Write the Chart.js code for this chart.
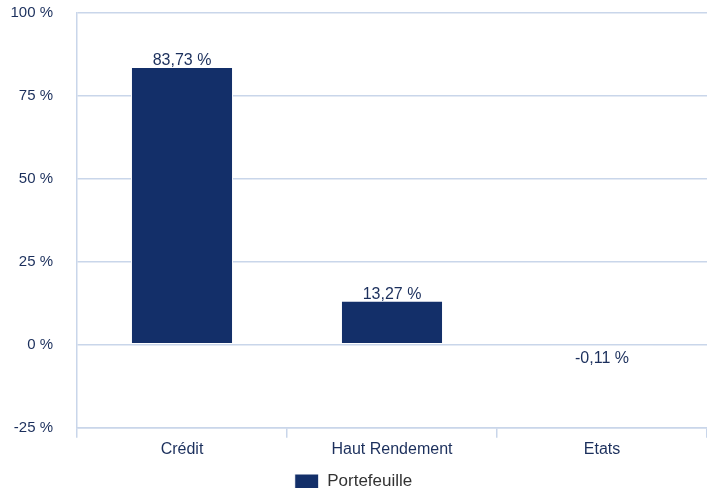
<!DOCTYPE html>
<html>
<head>
<meta charset="utf-8">
<script src="https://cdn.jsdelivr.net/npm/chart.js@4/dist/chart.umd.min.js"></script>
<style>
  html, body { margin: 0; padding: 0; background: #ffffff; }
  #wrap { width: 707px; height: 488px; position: relative; }
</style>
</head>
<body>
<div id="wrap"><canvas id="chart" width="707" height="488"></canvas></div>
<script>
// Allocation by segment (in %)
const categories = ['Crédit', 'Haut Rendement', 'Etats'];
const seriesName = 'Portefeuille';
const portefeuille = [83.73, 13.27, -0.11];
const yTicks = [-25, 0, 25, 50, 75, 100];

const NAVY = '#132f69';
const TEXT = '#1b2f5c';
const GRID = '#c9d6ea';
const FONT = '"Liberation Sans", Arial, Helvetica, sans-serif';

const fmt = v => v.toFixed(2).replace('.', ',') + ' %';

// Value labels: above positive bars, below the zero line for negatives
const valueLabels = {
  id: 'valueLabels',
  afterDatasetsDraw(chart) {
    const ctx = chart.ctx;
    const meta = chart.getDatasetMeta(0);
    const y0 = chart.scales.y.getPixelForValue(0);
    ctx.save();
    ctx.font = '16px ' + FONT;
    ctx.fillStyle = TEXT;
    ctx.textAlign = 'center';
    meta.data.forEach((bar, i) => {
      const v = portefeuille[i];
      if (v >= 0) {
        ctx.textBaseline = 'bottom';
        ctx.fillText(fmt(v), bar.x, bar.y + 2);
      } else {
        ctx.textBaseline = 'top';
        ctx.fillText(fmt(v), bar.x, Math.max(bar.y, y0) + 5);
      }
    });
    ctx.restore();
  }
};

// Push the legend row down towards the bottom edge
const legendNudge = {
  id: 'legendNudge',
  afterLayout(chart) {
    const lg = chart.legend;
    if (lg) { lg.top += 12; lg.bottom += 12; }
  }
};

new Chart(document.getElementById('chart'), {
  type: 'bar',
  data: {
    labels: categories,
    datasets: [{
      label: seriesName,
      data: portefeuille,
      backgroundColor: NAVY,
      borderColor: '#ffffff',
      borderWidth: 1,
      borderSkipped: false,
      categoryPercentage: 1,
      barPercentage: 0.486
    }]
  },
  options: {
    responsive: false,
    animation: false,
    layout: { padding: 0 },
    scales: {
      x: {
        offset: true,
        grid: {
          offset: true,
          drawOnChartArea: false,
          drawTicks: true,
          tickLength: 10,
          color: GRID,
          lineWidth: 1.5
        },
        border: { display: true, color: GRID, width: 1.5 },
        ticks: {
          color: TEXT,
          font: { family: FONT, size: 16 },
          padding: 2
        }
      },
      y: {
        min: -25,
        max: 100,
        afterBuildTicks(scale) { scale.ticks = yTicks.map(v => ({ value: v })); },
        afterFit(scale) {
          scale.width = 77;
          scale.paddingTop = 13;
          scale.paddingBottom = 0;
        },
        grid: {
          drawTicks: false,
          color: GRID,
          lineWidth: 1.5
        },
        border: { display: true, color: GRID, width: 1.5 },
        ticks: {
          color: TEXT,
          font: { family: FONT, size: 15 },
          padding: 24,
          callback: v => v + ' %'
        }
      }
    },
    plugins: {
      legend: {
        position: 'bottom',
        labels: {
          boxWidth: 24,
          boxHeight: 15,
          color: '#333333',
          font: { family: FONT, size: 17 },
          padding: 0
        }
      },
      tooltip: { enabled: false }
    }
  },
  plugins: [valueLabels, legendNudge]
});
</script>
</body>
</html>
